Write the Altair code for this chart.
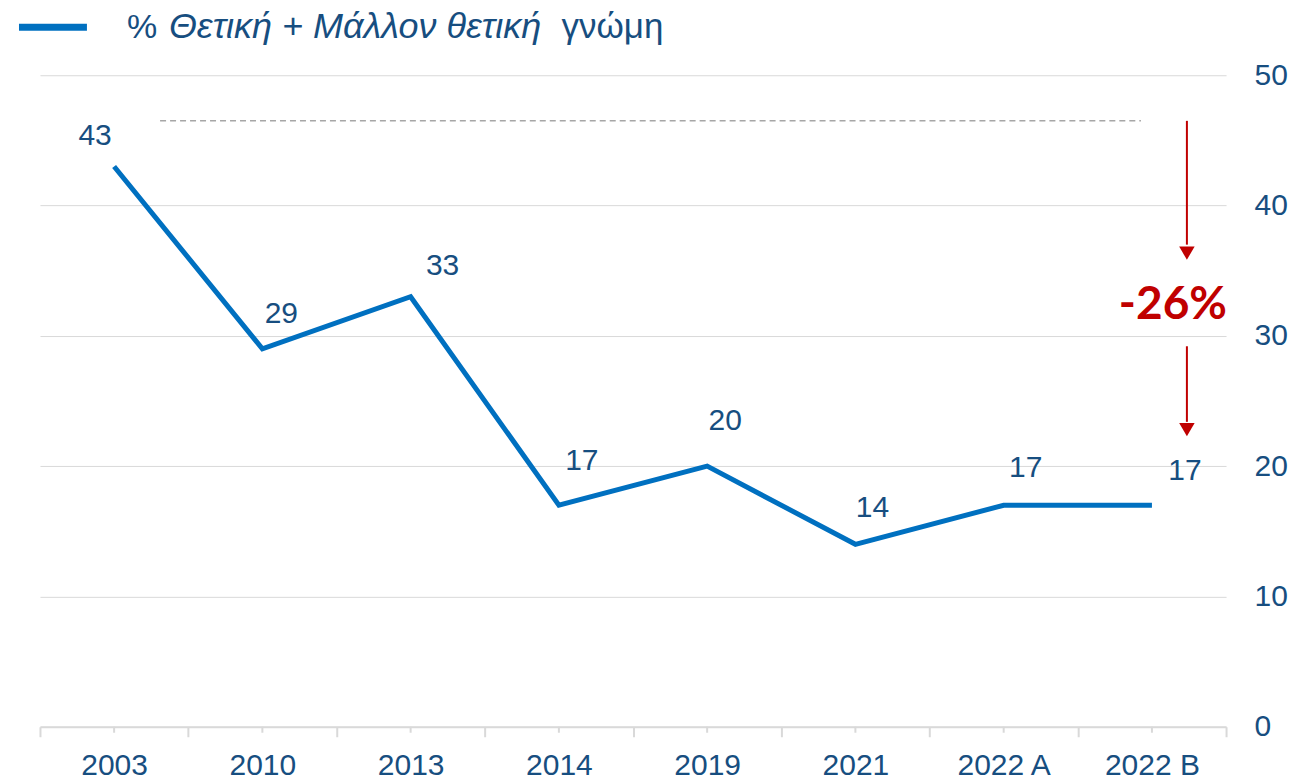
import altair as alt
import pandas as pd

# ---- data ----
categories = ["2003", "2010", "2013", "2014", "2019", "2021", "2022 A", "2022 B"]
values = [43, 29, 33, 17, 20, 14, 17, 17]
y_ticks = [0, 10, 20, 30, 40, 50]
legend_parts = ["%", "Θετική + Μάλλον θετική", "γνώμη"]
change_label = "-26%"
reference_level = 46.5
arrow_top = [46.5, 37.0]      # start, end of upper arrow shaft
arrow_top_head = 36.35
arrow_bottom = [29.2, 23.4]   # start, end of lower arrow shaft
arrow_bottom_head = 22.8
change_label_level = 32.4

# ---- style ----
BLUE = "#0070C0"
TEXT = "#174E80"
RED = "#C00000"
GRID = "#D9D9D9"
FONT = "Liberation Sans"
W, H = 1187, 652
label_dx = [-19, 19, 32, 23, 18, 17, 22, 33]
label_dy = [-21, -26, -22, -35, -36, -27, -28, -25]

df = pd.DataFrame({"cat": categories, "val": values})
one = pd.DataFrame({"k": [0]})

xscale = alt.Scale(domain=categories, paddingInner=0, paddingOuter=0)
yscale = alt.Scale(domain=[0, 50], nice=False)

x_enc = alt.X("cat:N", scale=xscale, sort=categories,
              axis=alt.Axis(title=None, labelAngle=0, tickBand="extent",
                            tickSize=10, tickWidth=2, tickColor=GRID,
                            domainColor=GRID, domainWidth=2, grid=False,
                            labelFont=FONT, labelFontSize=30, labelColor=TEXT,
                            labelPadding=14))
y_enc = alt.Y("val:Q", scale=yscale,
              axis=alt.Axis(title=None, orient="right", values=y_ticks,
                            grid=True, gridColor=GRID, gridWidth=1,
                            ticks=False, domain=False, labelFont=FONT,
                            labelFontSize=30, labelColor=TEXT, labelPadding=28))

base = alt.Chart(df)
ann = alt.Chart(one)

line = base.mark_line(color=BLUE, strokeWidth=5, strokeJoin="miter").encode(x=x_enc, y=y_enc)

center_ticks = base.mark_rule(color=GRID, strokeWidth=2, y2Offset=6).encode(
    x=alt.X("cat:N", scale=xscale, sort=categories),
    y=alt.datum(0), y2=alt.datum(0))

labels = []
for i, (c, v) in enumerate(zip(categories, values)):
    labels.append(
        alt.Chart(df.iloc[[i]]).mark_text(
            font=FONT, fontSize=30, color=TEXT, baseline="alphabetic",
            align="center", dx=label_dx[i], dy=label_dy[i]
        ).encode(x=alt.X("cat:N", scale=xscale, sort=categories),
                 y=alt.Y("val:Q", scale=yscale), text="val:Q")
    )

dashed = ann.mark_rule(color="#A6A6A6", strokeWidth=1.5, strokeDash=[6, 4],
                       xOffset=46, x2Offset=-11).encode(
    x=alt.datum(categories[0]), x2=alt.datum(categories[-1]),
    y=alt.datum(reference_level))

shaft1 = ann.mark_rule(color=RED, strokeWidth=2, xOffset=35).encode(
    x=alt.datum(categories[-1]), y=alt.datum(arrow_top[0]), y2=alt.datum(arrow_top[1]))
head1 = ann.mark_point(shape="triangle-down", filled=True, color=RED, size=240,
                       opacity=1, xOffset=35).encode(
    x=alt.datum(categories[-1]), y=alt.datum(arrow_top_head))
shaft2 = ann.mark_rule(color=RED, strokeWidth=2, xOffset=35).encode(
    x=alt.datum(categories[-1]), y=alt.datum(arrow_bottom[0]), y2=alt.datum(arrow_bottom[1]))
head2 = ann.mark_point(shape="triangle-down", filled=True, color=RED, size=240,
                       opacity=1, xOffset=35).encode(
    x=alt.datum(categories[-1]), y=alt.datum(arrow_bottom_head))
change = ann.mark_text(font="Lato", fontWeight="bold", fontSize=46, color=RED,
                       align="center", baseline="middle", dx=21).encode(
    x=alt.datum(categories[-1]), y=alt.datum(change_label_level),
    text=alt.value(change_label))

# legend (manual, mixed styles)
leg_line = ann.mark_rule(color=BLUE, strokeWidth=7).encode(
    x=alt.value(-21), x2=alt.value(47), y=alt.value(-48))
leg_t1 = ann.mark_text(font=FONT, fontSize=34, color=TEXT, align="left",
                       baseline="alphabetic").encode(
    x=alt.value(87), y=alt.value(-37), text=alt.value(legend_parts[0]))
leg_t2 = ann.mark_text(font=FONT, fontSize=36, fontStyle="italic",
                       fontWeight="normal", color=TEXT,
                       align="left", baseline="alphabetic").encode(
    x=alt.value(129), y=alt.value(-37), text=alt.value(legend_parts[1]))
leg_t3 = ann.mark_text(font=FONT, fontSize=35, color=TEXT, align="left",
                       baseline="alphabetic").encode(
    x=alt.value(522), y=alt.value(-37), text=alt.value(legend_parts[2]))

chart = alt.layer(
    line, center_ticks, dashed, shaft1, head1, shaft2, head2, change,
    *labels, leg_line, leg_t1, leg_t2, leg_t3
).properties(
    width=W, height=H,
    autosize=alt.AutoSizeParams(type="none"),
    padding={"left": 32, "top": 67, "right": 80, "bottom": 56},
    background="white",
).configure_view(stroke=None)

chart.save("out.html", embed_options={"renderer": "svg", "actions": False})
